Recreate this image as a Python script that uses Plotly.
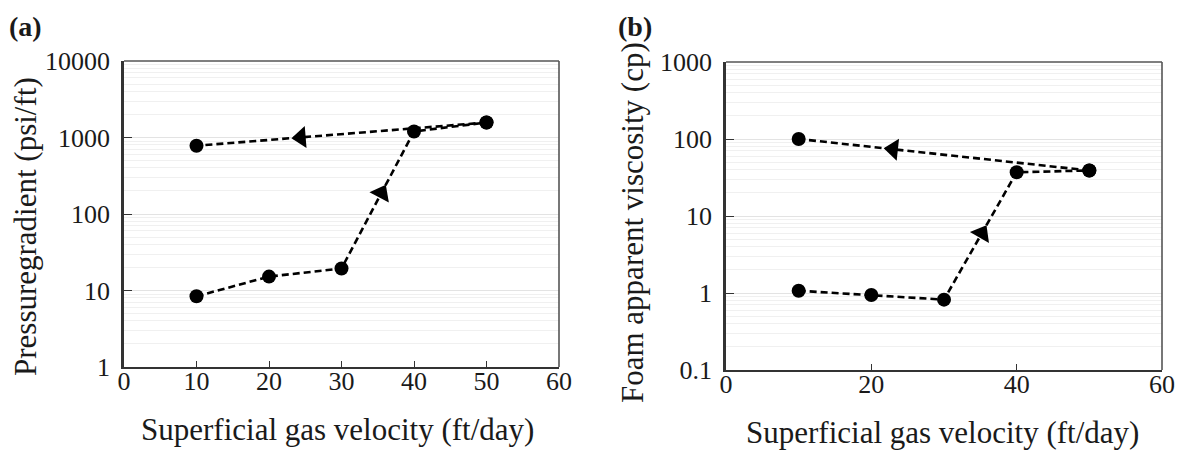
import math
import plotly.graph_objects as go

# ---------------- data ----------------
vel_fwd = [10, 20, 30, 40, 50]
dp_fwd = [8.4, 15.2, 19.4, 1200, 1570]
vel_back = [50, 10]
dp_back = [1570, 780]

visc_fwd = [1.07, 0.94, 0.82, 37, 39]
visc_back = [39, 100]

x_ticks_a = [0, 10, 20, 30, 40, 50, 60]
x_ticks_b = [0, 20, 40, 60]
y_ticks_a = [1, 10, 100, 1000, 10000]
y_ticks_b = [0.1, 1, 10, 100, 1000]

x_title = "Superficial gas velocity (ft/day)"
y_title_a = "Pressuregradient (psi/ft)"
y_title_b = "Foam apparent viscosity (cp)"

# ---------------- style ----------------
FONT = "Liberation Serif"
TXT = "#1a1a1a"
LINE = dict(color="black", width=2.6, dash="7px,4px")
MARK = dict(color="black", size=14, opacity=1)


def interp_log(x0, y0, x1, y1, t):
    x = x0 + (x1 - x0) * t
    y = 10 ** (math.log10(y0) + (math.log10(y1) - math.log10(y0)) * t)
    return x, y


fig = go.Figure()


def add_panel(xs_f, ys_f, xs_b, ys_b, xa, ya, t_back, t_fwd):
    fig.add_trace(go.Scatter(x=xs_f, y=ys_f, mode="lines+markers", line=LINE,
                             marker=MARK, xaxis=xa, yaxis=ya, showlegend=False))
    fig.add_trace(go.Scatter(x=xs_b, y=ys_b, mode="lines+markers", line=LINE,
                             marker=MARK, xaxis=xa, yaxis=ya, showlegend=False))
    xb, yb = interp_log(xs_b[0], ys_b[0], xs_b[1], ys_b[1], t_back)
    xf, yf = interp_log(xs_f[2], ys_f[2], xs_f[3], ys_f[3], t_fwd)
    for (sx, sy, ax_, ay_) in [(xs_b[0], ys_b[0], xb, yb), (xs_f[2], ys_f[2], xf, yf)]:
        fig.add_trace(go.Scatter(
            x=[sx, ax_], y=[sy, ay_], mode="markers",
            marker=dict(symbol="triangle-up", size=[0, 19], color="black",
                        opacity=1, angleref="previous",
                        line=dict(width=0, color="black")),
            xaxis=xa, yaxis=ya, showlegend=False, hoverinfo="skip"))


add_panel(vel_fwd, dp_fwd, vel_back, dp_back, "x", "y", 0.64, 0.55)
add_panel(vel_fwd, visc_fwd, vel_back, visc_back, "x2", "y2", 0.675, 0.52)


def xaxis_cfg(domain, ticks_vals, anchor):
    return dict(domain=domain, range=[0, 60], tickvals=ticks_vals,
                ticktext=[str(v) for v in ticks_vals], anchor=anchor,
                automargin=False,
                showgrid=False, zeroline=False, showline=True, linecolor="#333",
                linewidth=2, mirror=False, ticks="inside", ticklen=6,
                tickcolor="#333", tickwidth=1, ticklabelstandoff=-10,
                tickfont=dict(family=FONT, size=26, color=TXT))


def yaxis_cfg(domain, rng, ticks_vals, anchor):
    return dict(domain=domain, type="log", range=rng, tickvals=ticks_vals,
                ticktext=[("%g" % v) for v in ticks_vals], anchor=anchor,
                automargin=False,
                showgrid=True, gridcolor="#e3e3e3", gridwidth=1.2,
                minor=dict(dtick="D1", showgrid=True, gridcolor="#f0f0f0",
                           gridwidth=1, ticks=""),
                zeroline=False, showline=True, linecolor="#333", linewidth=2.5,
                mirror=False, ticks="inside", ticklen=8, tickcolor="#333",
                tickwidth=1, ticklabelstandoff=6,
                tickfont=dict(family=FONT, size=26, color=TXT))


W, H = 1187, 450
xa_dom = [124 / W, 559 / W]
xb_dom = [726 / W, 1162 / W]
ya_dom = [(H - 367) / H, (H - 61) / H]
yb_dom = [(H - 370) / H, (H - 62) / H]

fig.update_layout(
    width=W, height=H,
    margin=dict(l=0, r=0, t=0, b=0, autoexpand=False),
    paper_bgcolor="white", plot_bgcolor="white",
    xaxis=xaxis_cfg(xa_dom, x_ticks_a, "y"),
    yaxis=yaxis_cfg(ya_dom, [0, 4], y_ticks_a, "x"),
    xaxis2=xaxis_cfg(xb_dom, x_ticks_b, "y2"),
    yaxis2=yaxis_cfg(yb_dom, [-1, 3], y_ticks_b, "x2"),
)

for xr, yr in [("x domain", "y domain"), ("x2 domain", "y2 domain")]:
    fig.add_shape(type="line", xref=xr, yref=yr, x0=0, x1=1, y0=1, y1=1,
                  line=dict(color="#555", width=1.6))
    fig.add_shape(type="line", xref=xr, yref=yr, x0=1, x1=1, y0=0, y1=1,
                  line=dict(color="#555", width=1.6))

TITLE_FONT = dict(family=FONT, size=31, color=TXT)
fig.add_annotation(text=x_title, xref="paper", yref="paper", x=337 / W, y=1 - 429 / H,
                   xanchor="center", yanchor="middle", showarrow=False, font=TITLE_FONT)
fig.add_annotation(text=x_title, xref="paper", yref="paper", x=942 / W, y=1 - 432 / H,
                   xanchor="center", yanchor="middle", showarrow=False, font=TITLE_FONT)
fig.add_annotation(text=y_title_a, xref="paper", yref="paper", x=25 / W, y=1 - 227 / H,
                   xanchor="center", yanchor="middle", showarrow=False, textangle=-90,
                   font=TITLE_FONT)
fig.add_annotation(text=y_title_b, xref="paper", yref="paper", x=632 / W, y=1 - 223 / H,
                   xanchor="center", yanchor="middle", showarrow=False, textangle=-90,
                   font=TITLE_FONT)

fig.add_annotation(text="<b>(a)</b>", xref="paper", yref="paper", x=7 / W, y=1 - 9 / H,
                   xanchor="left", yanchor="top", showarrow=False,
                   font=dict(family=FONT, size=28, color=TXT))
fig.add_annotation(text="<b>(b)</b>", xref="paper", yref="paper", x=616 / W, y=1 - 9 / H,
                   xanchor="left", yanchor="top", showarrow=False,
                   font=dict(family=FONT, size=28, color=TXT))

fig.write_html("out.html", config={"displayModeBar": False},
               post_script="document.body.style.margin='0';document.body.style.overflow='hidden';")
